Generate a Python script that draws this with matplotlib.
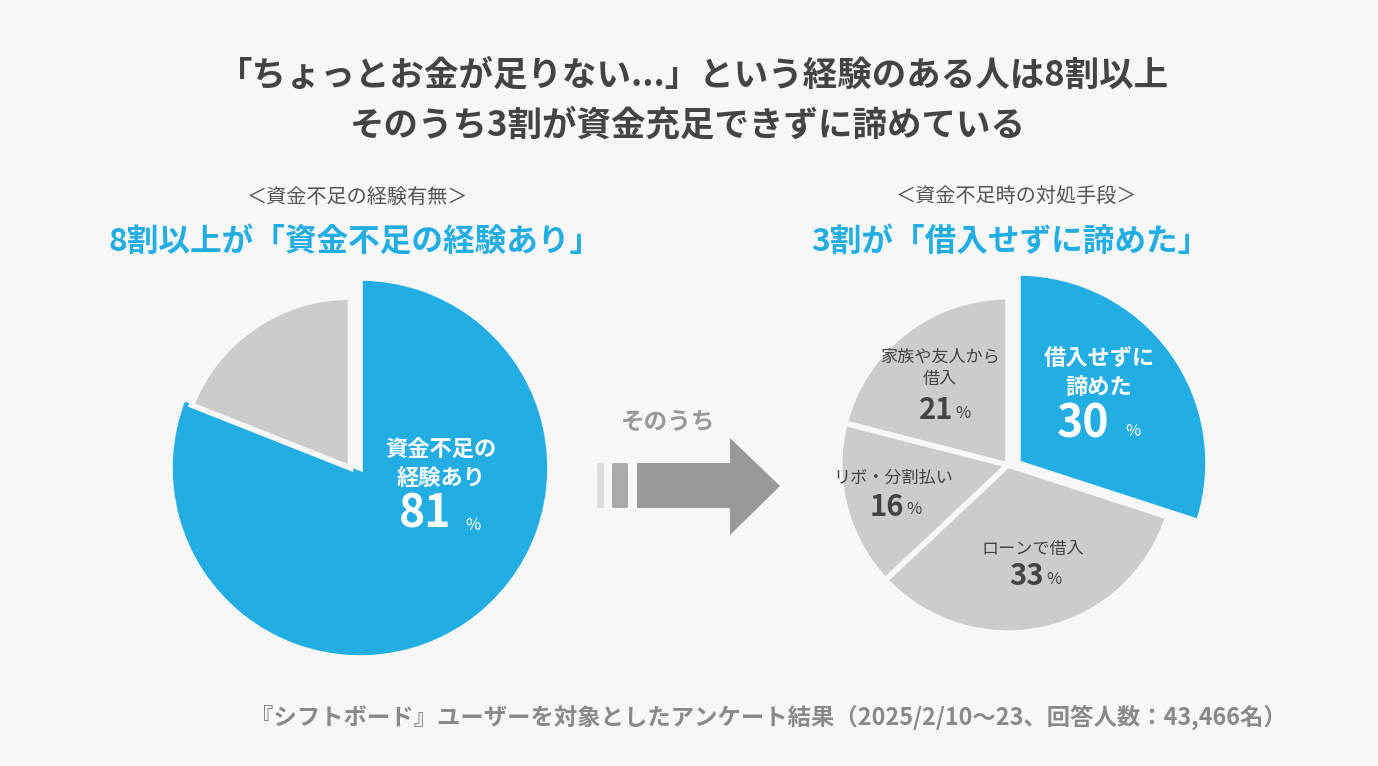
import matplotlib.pyplot as plt
from matplotlib.patches import Polygon, FancyBboxPatch

plt.rcParams['font.family'] = ['Noto Sans CJK JP', 'DejaVu Sans']

# データ
left_labels = ["資金不足の\n経験あり", "経験なし"]
left_values = [81, 19]
right_labels = ["借入せずに\n諦めた", "ローンで借入", "リボ・分割払い", "家族や友人から\n借入"]
right_values = [30, 33, 16, 21]

BG = "#F7F7F7"
BLUE = "#22ADE3"
GRAY = "#CCCCCC"
W, H = 1378, 766

fig = plt.figure(figsize=(W / 100, H / 100), dpi=100, facecolor=BG)


def pie_axes(cx, cy, r):
    # axes en pixels -> fraction de la figure
    half = 1.05 * r
    ax = fig.add_axes([(cx - half) / W, (H - cy - half) / H, 2 * half / W, 2 * half / H])
    return ax


def finish(ax):
    # pie() remet ses propres limites, on les fixe après
    ax.set_xlim(-1.05, 1.05)
    ax.set_ylim(-1.05, 1.05)
    ax.set_aspect('equal')
    ax.axis('off')


# camembert gauche
axl = pie_axes(360, 468, 190)
wl, _ = axl.pie(left_values, colors=[BLUE, GRAY], startangle=90, counterclock=False,
                wedgeprops=dict(edgecolor=BG, linewidth=4))
wl[1].set_radius(0.9)
wl[1].set_center((-0.05, 0.0))
finish(axl)

# camembert droit
axr = pie_axes(1018, 463, 190)
wr, _ = axr.pie(right_values, colors=[BLUE, GRAY, GRAY, GRAY], startangle=90, counterclock=False,
                wedgeprops=dict(edgecolor=BG, linewidth=4))
for w in wr[1:]:
    w.set_radius(0.885)
    w.set_center((-0.053, -0.01))
finish(axr)

# calque texte en pixels
ax = fig.add_axes([0, 0, 1, 1], zorder=5)
ax.set_xlim(0, W)
ax.set_ylim(H, 0)
ax.axis('off')
ax.patch.set_alpha(0)

ax.text(694, 75, "「ちょっとお金が足りない...」という経験のある人は8割以上",
        ha='center', va='center', fontsize=24.8, fontweight='bold', color="#444444")
ax.text(688, 125, "そのうち3割が資金充足できずに諦めている",
        ha='center', va='center', fontsize=24.8, fontweight='bold', color="#444444")

ax.text(358, 197, "＜資金不足の経験有無＞", ha='center', va='center', fontsize=14.5, color="#555555")
ax.text(355, 242, "8割以上が「資金不足の経験あり」", ha='center', va='center',
        fontsize=22.8, fontweight='bold', color=BLUE)
ax.text(1017, 197, "＜資金不足時の対処手段＞", ha='center', va='center', fontsize=14.5, color="#555555")
ax.text(1010, 242, "3割が「借入せずに諦めた」", ha='center', va='center',
        fontsize=22.8, fontweight='bold', color=BLUE)

# étiquettes gauche
ax.text(441, 464, left_labels[0], ha='center', va='center', fontsize=16,
        fontweight='bold', color='white', linespacing=1.3)
ax.text(425, 515, f"{left_values[0]}", ha='center', va='center', fontsize=32,
        fontweight='bold', color='white')
ax.text(473, 525, "%", ha='center', va='center', fontsize=12, color='white')

# étiquettes droite
ax.text(1099, 373, right_labels[0], ha='center', va='center', fontsize=16,
        fontweight='bold', color='white', linespacing=1.3)
ax.text(1083, 424, f"{right_values[0]}", ha='center', va='center', fontsize=32,
        fontweight='bold', color='white')
ax.text(1133, 432, "%", ha='center', va='center', fontsize=12, color='white')

gray_pos = [(1033, 549, 1044, 576), (893, 478, 904, 507), (940, 368, 953, 410)]
for lab, val, (lx, ly, vx, vy) in zip(right_labels[1:], right_values[1:], gray_pos):
    ax.text(lx, ly, lab, ha='center', va='center', fontsize=12.3, color="#444444",
            linespacing=1.3)
    ax.text(vx, vy, f"{val}", ha='right', va='center', fontsize=21, fontweight='bold',
            color="#444444")
    ax.text(vx + 2, vy + 3, "%", ha='left', va='center', fontsize=12, color="#444444")

# flèche
ax.text(668, 422, "そのうち", ha='center', va='center', fontsize=17, fontweight='bold', color="#999999")
ax.add_patch(FancyBboxPatch((597, 463), 7, 45, boxstyle="round,pad=0,rounding_size=2",
                            fc="#DDDDDD", ec='none'))
ax.add_patch(FancyBboxPatch((612, 463), 16, 45, boxstyle="round,pad=0,rounding_size=2",
                            fc="#AAAAAA", ec='none'))
ax.add_patch(Polygon([(637, 463), (730, 463), (730, 438), (780, 486), (730, 535),
                      (730, 508), (637, 508)], closed=True, fc="#999999", ec='none'))

ax.text(768, 717, "『シフトボード』ユーザーを対象としたアンケート結果（2025/2/10～23、回答人数：43,466名）",
        ha='center', va='center', fontsize=16.8, fontweight='bold', color="#8A8A8A")

fig.savefig("out.png", dpi=100, facecolor=BG)
